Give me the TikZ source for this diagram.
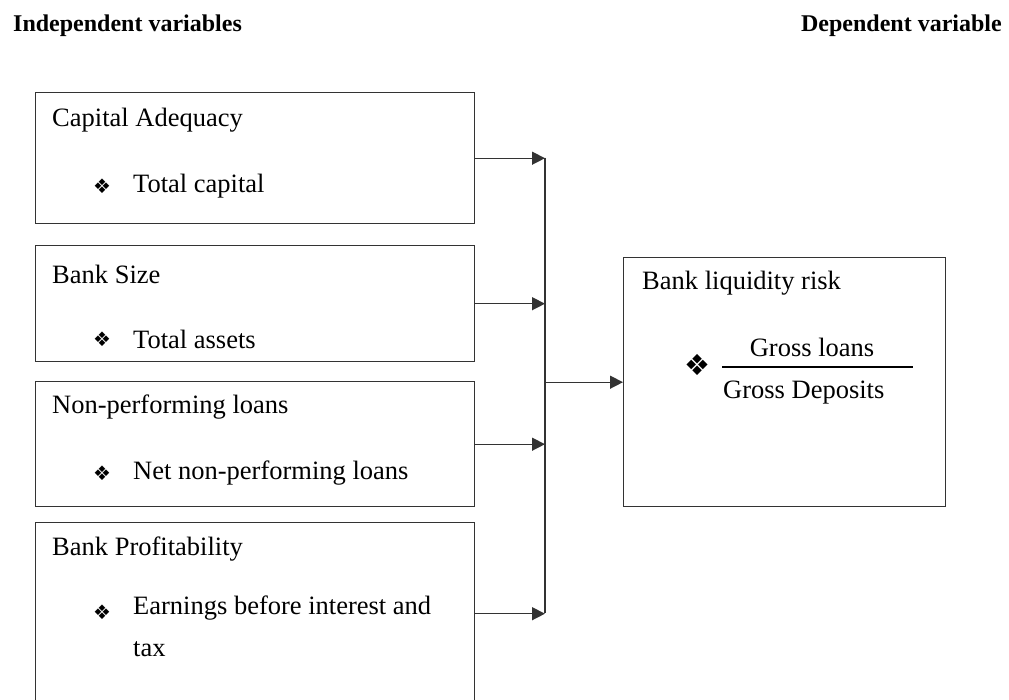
\documentclass[tikz,border=0pt]{standalone}
\usepackage{fontspec}
\setmainfont{Liberation Serif}
\newfontfamily\symfont{DejaVu Sans}
\usetikzlibrary{arrows.meta}

\tikzset{
  varbox/.style={draw=black!80, line width=1.4pt, minimum width=439pt, anchor=north west, inner sep=0pt},
  lbl/.style={anchor=west, inner sep=0pt, font=\fontsize{26.5}{42}\selectfont},
  bul/.style={inner sep=0pt, font=\symfont\fontsize{20}{20}\selectfont},
  head/.style={inner sep=0pt, font=\bfseries\fontsize{24}{28}\selectfont},
  feed/.style={draw=black!80, line width=1.4pt, -{Triangle[length=13pt,width=13pt]}}
}

\begin{document}
\begin{tikzpicture}[x=1pt,y=-1pt]
    \useasboundingbox (0,0) rectangle (1009,699);

    % Titoli
    \node[head, anchor=base west] (indep) at (13,31) {Independent variables};
    \node[head, anchor=base east] (dep) at (1002,31) {Dependent variable};

    % Variabili indipendenti
    \node[varbox, minimum height=131pt] (capital) at (35,92) {};
    \node[lbl] (capitalname) at (52,120) {Capital Adequacy};
    \node[bul] (capitalbul) at (102,186) {❖};
    \node[lbl] (capitalitem) at (133,186) {Total capital};

    \node[varbox, minimum height=116pt] (size) at (35,245) {};
    \node[lbl] (sizename) at (52,274) {Bank Size};
    \node[bul] (sizebul) at (102,339) {❖};
    \node[lbl] (sizeitem) at (133,339) {Total assets};

    \node[varbox, minimum height=125pt] (npl) at (35,381) {};
    \node[lbl] (nplname) at (52,407) {Non-performing loans};
    \node[bul] (nplbul) at (102,473) {❖};
    \node[lbl] (nplitem) at (133,473) {Net non-performing loans};

    \node[varbox, minimum height=182pt] (profit) at (35,522) {};
    \node[lbl] (profitname) at (52,549) {Bank Profitability};
    \node[bul] (profitbul) at (102,612) {❖};
    \node[lbl, anchor=north west, align=left] (profititem) at (133,596) {Earnings before interest and\\tax};

    % Variabile dipendente
    \node[varbox, minimum width=322pt, minimum height=249pt] (risk) at (623,257) {};
    \node[lbl] (riskname) at (642,283) {Bank liquidity risk};
    \node[bul, font=\symfont\fontsize{29}{29}\selectfont] (riskbul) at (697,365) {❖};
    \node[lbl, anchor=center] (loans) at (812,347) {Gross loans};
    \node[lbl] (deposits) at (723,393) {Gross Deposits};
    \coordinate (fracl) at (722,367);
    \coordinate (fracr) at (913,367);
    \draw[line width=1.4pt] (fracl) -- (fracr); % linea di frazione

    % Frecce
    \coordinate (bustop) at (545,157.5);
    \coordinate (busbot) at (545,613);
    \draw[draw=black!80, line width=1.4pt] (bustop) -- (busbot);
    \draw[feed] (capital.east) -- (capital.east -| bustop);
    \draw[feed] (size.east) -- (size.east -| bustop);
    \draw[feed] (npl.east) -- (npl.east -| bustop);
    \draw[feed] (profit.east) -- (profit.east -| bustop);
    \draw[feed] (risk.west -| bustop) -- (risk.west);
\end{tikzpicture}
\end{document}
